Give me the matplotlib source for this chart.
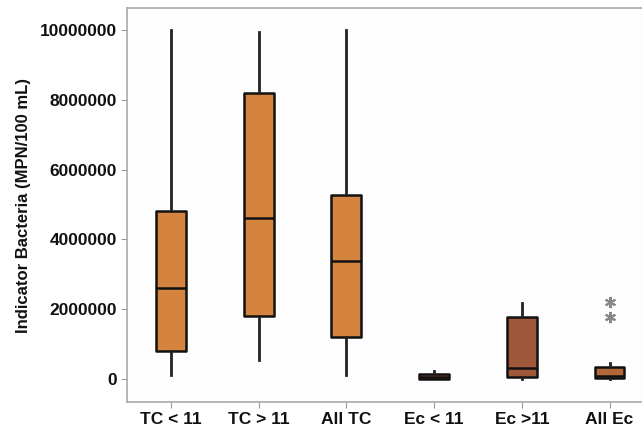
import matplotlib
matplotlib.use("Agg")
import matplotlib.pyplot as plt

plt.rcParams["font.family"] = ["Liberation Sans", "DejaVu Sans"]

labels = ["TC < 11", "TC > 11", "All TC", "Ec < 11", "Ec >11", "All Ec"]
whislo = [0.11e6, 0.55e6, 0.12e6, 0.0, 0.0, 0.0]
q1 = [0.81e6, 1.81e6, 1.21e6, -0.01e6, 0.05e6, 0.03e6]
med = [2.61e6, 4.61e6, 3.39e6, 0.06e6, 0.31e6, 0.08e6]
q3 = [4.80e6, 8.21e6, 5.27e6, 0.14e6, 1.77e6, 0.35e6]
whishi = [10.0e6, 9.94e6, 10.0e6, 0.24e6, 2.17e6, 0.46e6]
fliers = [[], [], [], [], [], [2.19e6, 1.78e6]]
colors = ["#d4843f", "#d4843f", "#d4843f", "#a0583a", "#a0583a", "#b3683a"]

stats = []
for i in range(len(labels)):
    stats.append(dict(label=labels[i], whislo=whislo[i], q1=q1[i], med=med[i],
                      q3=q3[i], whishi=whishi[i], fliers=fliers[i]))

fig = plt.figure(figsize=(6.42, 4.28), dpi=100)
ax = fig.add_axes([0.198, 0.061, 0.802, 0.92])

bp = ax.bxp(stats, widths=0.34, showcaps=False, patch_artist=True,
            boxprops=dict(edgecolor="#111111", linewidth=1.8, joinstyle="round"),
            medianprops=dict(color="#111111", linewidth=1.8),
            whiskerprops=dict(color="#222222", linewidth=2),
            flierprops=dict(marker=(6, 2, 0), markersize=8, markeredgecolor="#888888",
                            markerfacecolor="#888888", markeredgewidth=1.5))
for patch, c in zip(bp["boxes"], colors):
    patch.set_facecolor(c)

ax.set_xlim(0.5, 6.37)
ax.set_ylim(-0.66e6, 10.63e6)
ax.set_yticks([0, 2000000, 4000000, 6000000, 8000000, 10000000])
ax.set_yticklabels(["0", "2000000", "4000000", "6000000", "8000000", "10000000"])
ax.set_ylabel("Indicator Bacteria (MPN/100 mL)", fontsize=12, fontweight="bold",
              color="#111111", labelpad=6)
for lab in ax.get_xticklabels() + ax.get_yticklabels():
    lab.set_fontweight("bold")
    lab.set_fontsize(12.5)
    lab.set_color("#111111")
ax.tick_params(colors="#999999", length=4, labelcolor="#111111")
for s in ["left", "bottom", "top"]:
    ax.spines[s].set_color("#aaaaaa")
    ax.spines[s].set_linewidth(1.2)
ax.spines["right"].set_visible(False)
ax.set_facecolor("#fdfdfd")

fig.savefig("out.png", dpi=100)
